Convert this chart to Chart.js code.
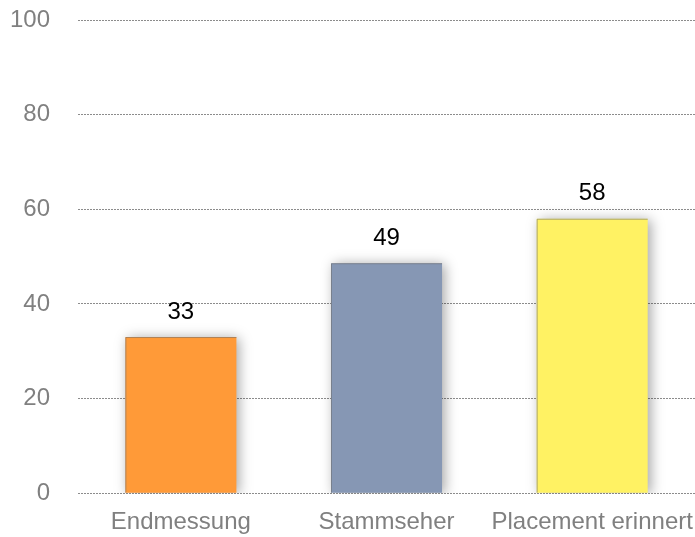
<!DOCTYPE html>
<html>
<head>
<meta charset="utf-8">
<script src="https://cdn.jsdelivr.net/npm/chart.js@4"></script>
<style>
  html, body { margin: 0; padding: 0; background: #fff; }
  #wrap { width: 695px; height: 537px; }
</style>
</head>
<body>
<div id="wrap"><canvas id="chart1"></canvas></div>
<script>
    "use strict";

    var categories = ['Endmessung', 'Stammseher', 'Placement erinnert'];
    var values = [33, 48.6, 58];
    var barColors = ['#ff9a38', '#8697b4', '#fff263'];
    var yTicks = [0, 20, 40, 60, 80, 100];

    // shadow behind the bars
    var barShadow = {
        id: 'barShadow',
        beforeDatasetDraw: function (chart) {
            var ctx = chart.ctx;
            ctx.save();
            ctx.shadowColor = 'rgba(0,0,0,0.35)';
            ctx.shadowBlur = 12;
            ctx.shadowOffsetX = 3;
            ctx.shadowOffsetY = 1;
        },
        afterDatasetDraw: function (chart) {
            chart.ctx.restore();
        }
    };

    // value labels above bars + thin edge on top/left
    var valueLabels = {
        id: 'valueLabels',
        afterDatasetsDraw: function (chart) {
            var ctx = chart.ctx;
            var meta = chart.getDatasetMeta(0);
            ctx.save();
            meta.data.forEach(function (bar, i) {
                var left = bar.x - bar.width / 2;
                var right = bar.x + bar.width / 2;
                ctx.strokeStyle = 'rgba(110,110,110,0.55)';
                ctx.lineWidth = 1;
                ctx.beginPath();
                ctx.moveTo(left + 0.5, bar.base);
                ctx.lineTo(left + 0.5, bar.y + 0.5);
                ctx.lineTo(right, bar.y + 0.5);
                ctx.stroke();
            });
            ctx.font = '24px "Liberation Sans", Arial, sans-serif';
            ctx.fillStyle = '#000';
            ctx.textAlign = 'center';
            ctx.textBaseline = 'middle';
            meta.data.forEach(function (bar, i) {
                ctx.fillText(Math.round(values[i]), bar.x, bar.y - 25);
            });
            ctx.restore();
        }
    };

    var ctx = document.getElementById('chart1').getContext('2d');

    var myChart = new Chart(ctx, {
        type: 'bar',
        data: {
            labels: categories,
            datasets: [{
                data: values,
                backgroundColor: barColors,
                borderWidth: 0,
                categoryPercentage: 0.54,
                barPercentage: 1
            }]
        },
        options: {
            responsive: true,
            maintainAspectRatio: false,
            animation: false,
            layout: { padding: { left: 10, right: 0, top: 20, bottom: 0 } },
            plugins: {
                legend: { display: false },
                tooltip: { enabled: false }
            },
            scales: {
                x: {
                    grid: { display: false, drawTicks: true, tickLength: 15, tickColor: 'transparent' },
                    border: { display: false },
                    ticks: {
                        color: '#808080',
                        padding: 0,
                        maxRotation: 0,
                        minRotation: 0,
                        autoSkip: false,
                        font: { family: '"Liberation Sans", Arial, sans-serif', size: 24 }
                    }
                },
                y: {
                    min: 0,
                    max: 100,
                    afterBuildTicks: function (axis) {
                        axis.ticks = yTicks.map(function (v) { return { value: v }; });
                    },
                    grid: {
                        color: '#8c8c8c',
                        lineWidth: 1,
                        drawTicks: true,
                        tickLength: 28,
                        tickColor: 'transparent'
                    },
                    border: { display: false, dash: [2, 1] },
                    ticks: {
                        color: '#808080',
                        padding: 0,
                        font: { family: '"Liberation Sans", Arial, sans-serif', size: 24 }
                    }
                }
            }
        },
        plugins: [barShadow, valueLabels]
    });
</script>
</body>
</html>
